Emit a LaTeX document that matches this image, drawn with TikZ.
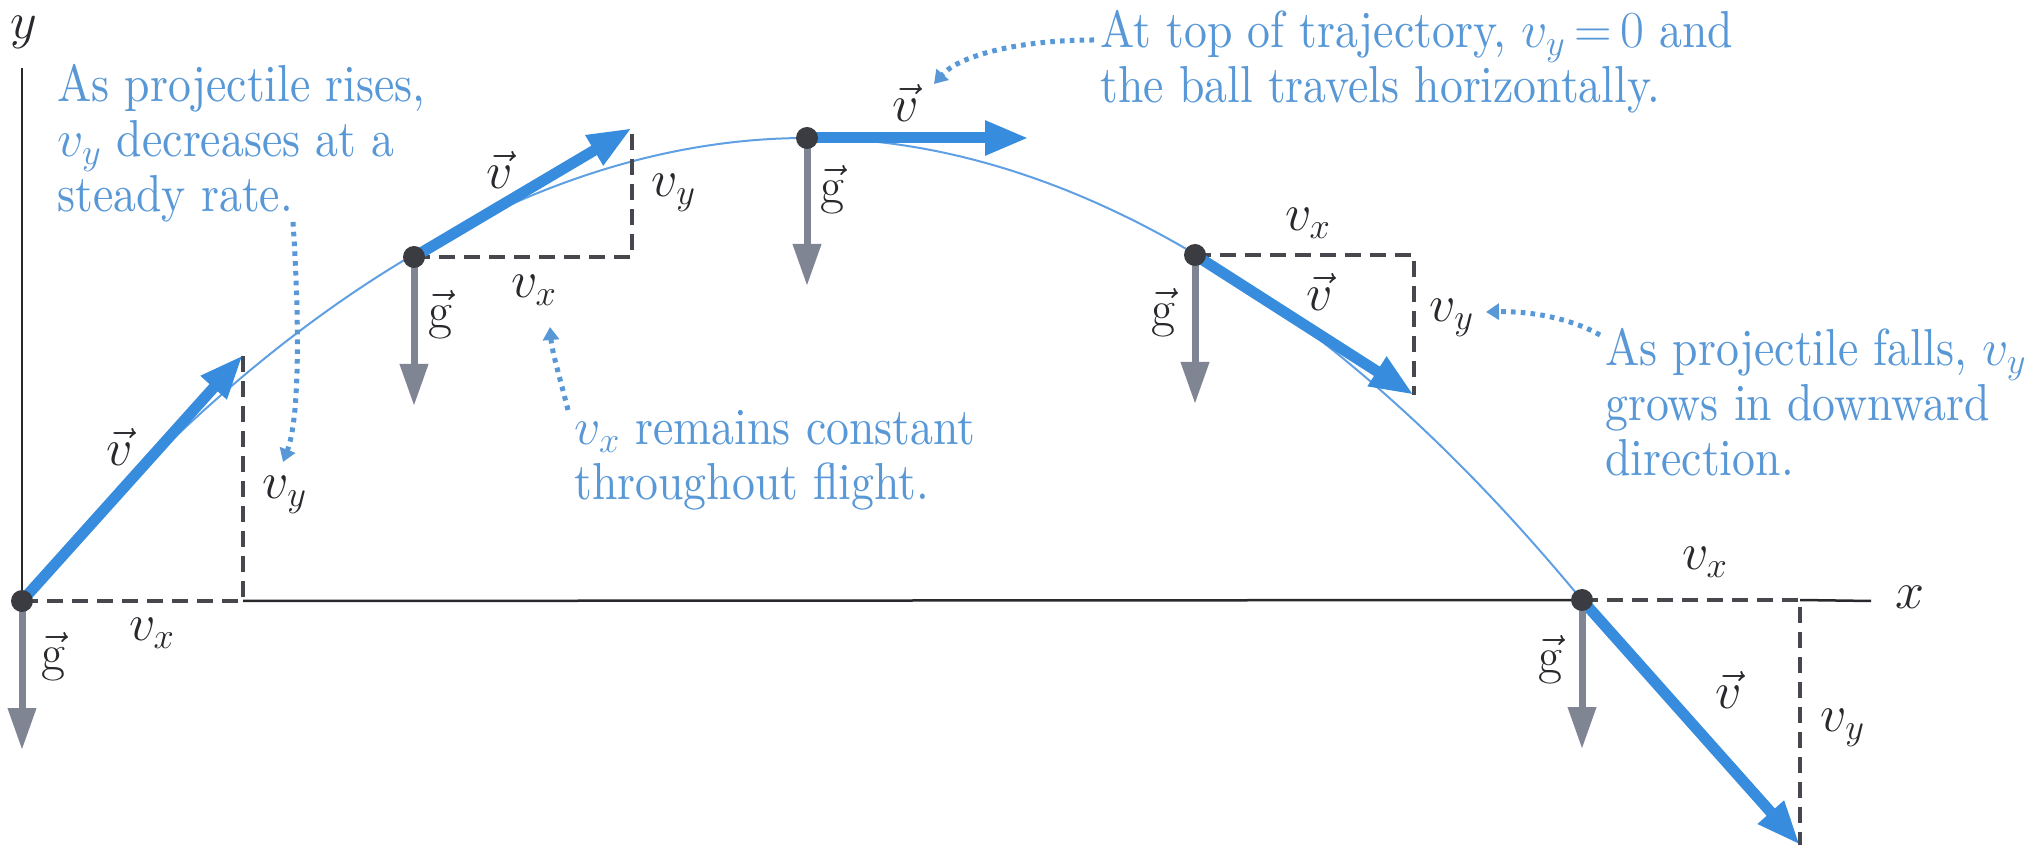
\documentclass[tikz,border=0pt]{standalone}
\usepackage{fix-cm}
\usepackage{fontspec}
\newfontfamily\annfont{lmroman10-regular.otf}[FakeStretch=0.88]
\usetikzlibrary{arrows.meta}
\definecolor{vblue}{RGB}{55,140,222}
\definecolor{tblue}{RGB}{88,152,215}
\definecolor{trajblue}{RGB}{95,160,228}
\definecolor{ggray}{RGB}{128,133,148}
\definecolor{dgray}{RGB}{70,72,78}
\definecolor{dotc}{RGB}{58,60,66}
\definecolor{axisc}{RGB}{40,40,45}
\begin{document}
\begin{tikzpicture}[x=0.5pt,y=-0.5pt,
  gvec/.style={draw=ggray, line width=3.5pt, -{Triangle[length=21pt,width=13.5pt]}},
  vvec/.style={draw=vblue, line width=5.5pt, -{Triangle[length=22pt,width=16pt]}},
  comp/.style={draw=dgray, line width=2.25pt, dash pattern=on 8pt off 4.5pt},
  traj/.style={draw=trajblue, line width=1pt},
  axisline/.style={draw=axisc, line width=1.25pt},
  ball/.style={circle, fill=dotc, minimum size=11pt, inner sep=0pt},
  lab/.style={text=axisc, font=\fontsize{26}{30}\selectfont, inner sep=0pt},
  note/.style={text=tblue, font=\annfont\fontsize{26}{27.5}\selectfont, align=left, inner sep=0pt, anchor=north west},
  pointer/.style={draw=tblue, line width=2.5pt, dash pattern=on 2.3pt off 2.6pt, -{Triangle[length=6.5pt,width=8pt]}}
]
\useasboundingbox (0,0) rectangle (2034,849);
\fill[white] (0,0) rectangle (2034,849);

% points
\coordinate (P0) at (22,601);
\coordinate (P1) at (414,257);
\coordinate (P2) at (807,138);
\coordinate (P3) at (1195,255);
\coordinate (P4) at (1582,600);
% velocity tips
\coordinate (t0) at (243,355);
\coordinate (t1) at (632,128);
\coordinate (t2) at (1029,138);
\coordinate (t3) at (1414,395);
\coordinate (t4) at (1800,845);
% component corners
\coordinate (c0) at (243,601);
\coordinate (c1) at (632,257);
\coordinate (c3) at (1414,255);
\coordinate (c4) at (1800,600);
% g tips
\coordinate (g0) at (22,750);
\coordinate (g1) at (414,406);
\coordinate (g2) at (807,286);
\coordinate (g3) at (1195,404);
\coordinate (g4) at (1582,749);
% axes ends
\coordinate (yTop) at (22,68);
\coordinate (xEnd) at (1871,601);

% axes
\draw[axisline] (P0) -- (yTop);
\draw[axisline] (c0) -- (P4);
\draw[axisline] (c4) -- (xEnd);
\node[lab] (ylab) at (24,32) {$y$};
\node[lab] (xlab) at (1910,597) {$x$};

% trajectory
\draw[traj] (P0) parabola bend (P2) (P4);

% components
\draw[comp] (P0) -- (c0) -- (t0);
\draw[comp] (P1) -- (c1) -- (t1);
\draw[comp] (P3) -- (c3) -- (t3);
\draw[comp] (P4) -- (c4) -- (t4);

% velocity vectors
\draw[vvec] (P0) -- (t0);
\draw[vvec] (P1) -- (t1);
\draw[vvec] (P2) -- (t2);
\draw[vvec] (P3) -- (t3);
\draw[vvec] (P4) -- (t4);

% gravity vectors
\draw[gvec] (P0) -- (g0);
\draw[gvec] (P1) -- (g1);
\draw[gvec] (P2) -- (g2);
\draw[gvec] (P3) -- (g3);
\draw[gvec] (P4) -- (g4);

% balls
\node[ball] (b0) at (P0) {};
\node[ball] (b1) at (P1) {};
\node[ball] (b2) at (P2) {};
\node[ball] (b3) at (P3) {};
\node[ball] (b4) at (P4) {};

% labels
\node[lab] (v0) at (120,447) {$\vec{v}$};
\node[lab] (gl0) at (53,657) {$\vec{\mathrm{g}}$};
\node[lab] (vx0) at (152,633) {$v_x$};
\node[lab] (vy0) at (285,495) {$v_y$};

\node[lab] (v1) at (500,170) {$\vec{v}$};
\node[lab] (gl1) at (440,315) {$\vec{\mathrm{g}}$};
\node[lab] (vx1) at (534,290) {$v_x$};
\node[lab] (vy1) at (674,193) {$v_y$};

\node[lab] (v2) at (906,103) {$\vec{v}$};
\node[lab] (gl2) at (832,190) {$\vec{\mathrm{g}}$};

\node[lab] (vx3) at (1308,223) {$v_x$};
\node[lab] (gl3) at (1163,313) {$\vec{\mathrm{g}}$};
\node[lab] (v3) at (1320,292) {$\vec{v}$};
\node[lab] (vy3) at (1452,318) {$v_y$};

\node[lab] (vx4) at (1705,562) {$v_x$};
\node[lab] (gl4) at (1550,660) {$\vec{\mathrm{g}}$};
\node[lab] (v4) at (1729,690) {$\vec{v}$};
\node[lab] (vy4) at (1843,728) {$v_y$};

% annotations
\node[note] (n1) at (57,64) {As projectile rises,\\$v_y$ decreases at a\\steady rate.};
\node[note] (n2) at (574,410) {$v_x$ remains constant\\throughout flight.};
\node[note] (n3) at (1100,10) {At top of trajectory, $v_y\,{=}\,0$ and\\the ball travels horizontally.};
\node[note] (n4) at (1605,328) {As projectile falls, $v_y$\\grows in downward\\direction.};

% pointers
\coordinate (s1) at (293,222);
\coordinate (e1) at (283,462);
\coordinate (s2) at (568,410);
\coordinate (e2) at (550,327);
\coordinate (s3) at (1094,40);
\coordinate (e3) at (934,84);
\coordinate (s4) at (1600,335);
\coordinate (e4) at (1486,312);
\draw[pointer] (s1) .. controls (300,330) and (299,420) .. (e1);
\draw[pointer] (s2) .. controls (560,378) and (552,352) .. (e2);
\draw[pointer] (s3) .. controls (1020,40) and (960,55) .. (e3);
\draw[pointer] (s4) .. controls (1570,318) and (1530,311) .. (e4);
\end{tikzpicture}
\end{document}
